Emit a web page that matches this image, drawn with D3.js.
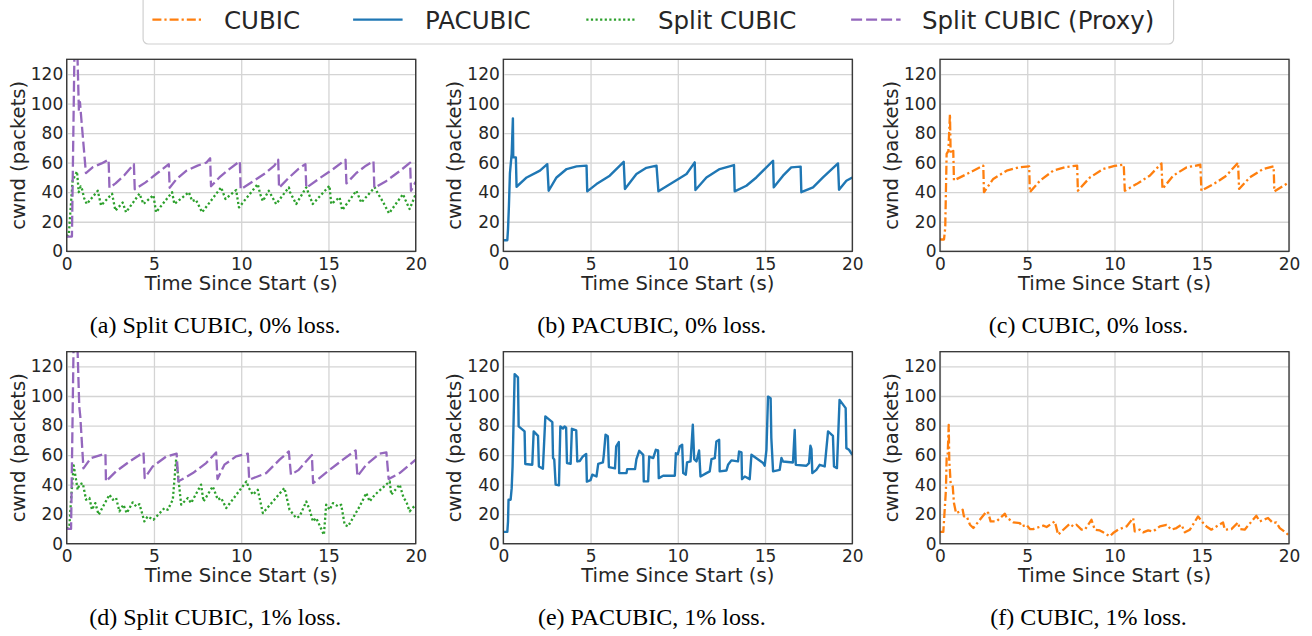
<!DOCTYPE html>
<html>
<head>
<meta charset="utf-8">
<script src="https://cdnjs.cloudflare.com/ajax/libs/d3/7.8.5/d3.min.js"></script>
<style>
  html, body { margin: 0; padding: 0; background: #fff; }
  svg { display: block; }
</style>
</head>
<body>
<svg id="chart" width="1312" height="636"></svg>
<script>
// ---------------- DATA ----------------
const xTicks = [0, 5, 10, 15, 20];
const yTicks = [0, 20, 40, 60, 80, 100, 120];
const xLabel = "Time Since Start (s)";
const yLabel = "cwnd (packets)";
const legendNames = ["CUBIC", "PACUBIC", "Split CUBIC", "Split CUBIC (Proxy)"];
const captions = [
  "(a) Split CUBIC, 0% loss.", "(b) PACUBIC, 0% loss.", "(c) CUBIC, 0% loss.",
  "(d) Split CUBIC, 1% loss.", "(e) PACUBIC, 1% loss.", "(f) CUBIC, 1% loss."
];

// (a) Split CUBIC (Proxy), 0% loss  [time s, cwnd]
const proxy0 = [[0,10],[0.3,10],[0.45,140],[0.6,140],[0.7,95],[0.76,101],[0.85,88],[1.1,53],
  [1.5,57],[2.0,59.5],[2.4,62],[2.45,43],[2.8,46],[3.3,51.5],[3.85,59],[3.9,42],
  [4.5,46.5],[5.2,53],[5.85,59],[5.9,43],[6.3,49],[6.85,54.5],[7.5,58],[8.0,60],[8.22,63],[8.27,44],
  [8.75,50],[9.3,55.5],[9.92,61],[9.97,42],[10.7,47.5],[11.4,53],[11.9,58],[12.12,62],[12.17,43],
  [12.7,49.5],[13.3,56],[13.68,59],[13.73,43],[14.5,49.5],[15.25,55.5],[15.98,62],[16.03,46],
  [16.6,53],[17.15,58],[17.58,61],[17.63,43],[18.3,47.5],[19.05,54],[19.68,60],[19.73,41],[20,47]];
// (a) Split CUBIC, 0% loss
const split0 = [[0,10],[0.12,11],[0.2,25],[0.34,48],[0.59,54],[0.69,40],[0.8,44],[0.88,42],[1.0,36],[1.15,32],
  [1.78,41],[1.97,31],[2.6,39],[2.79,27.5],[3.21,33],[3.4,26.4],[4.17,39],[4.4,32],[4.97,38],[5.12,26.4],
  [6.04,40],[6.17,32],[7.0,40],[7.19,34],[7.4,35],[7.76,26.4],[8.85,43.3],[8.95,40],[9.1,35.4],[9.71,41.5],
  [9.87,29.7],[10.95,45.5],[11.09,38.7],[11.24,34],[11.58,41],[12.0,32],[12.73,43.3],[12.8,40],[13.15,32],
  [13.73,43.3],[14.1,32],[15.06,44.4],[15.16,32],[15.64,36.5],[15.79,27.9],[16.6,41],[16.88,33],[17.65,43.3],
  [17.84,39],[18.1,34],[18.47,25.7],[19.27,38.7],[19.4,35],[19.65,28.6],[20,38.7]];
// (b) PACUBIC, 0% loss
const pacubic0 = [[0,7.5],[0.23,7.5],[0.27,15],[0.32,30],[0.38,53],[0.48,66],[0.55,90],[0.57,63.6],[0.72,63.6],
  [0.76,43.7],[1.34,50],[2.1,54.6],[2.52,59],[2.6,41],[3.05,50],[3.63,55.7],[4.2,57.5],[4.77,58],[4.81,40.6],
  [5.34,45.5],[6.1,51.2],[6.9,60.6],[6.97,42.2],[7.63,52.3],[8.2,56.5],[8.78,58],[8.89,40.6],[9.73,46.7],
  [10.5,52.3],[10.97,60.2],[11.01,41.5],[11.64,50],[12.4,55.7],[13.22,58.4],[13.26,40.6],[13.93,44.4],
  [14.5,50],[15.46,61.3],[15.5,43.3],[16.03,51.2],[16.5,56.8],[17.04,57.3],[17.08,40],[17.75,43.3],
  [18.32,50],[19.18,59.5],[19.24,41.7],[19.66,47.8],[20,50]];
// (c) CUBIC, 0% loss
const cubic0 = [[0,8],[0.23,8],[0.3,16],[0.38,66],[0.48,68],[0.57,93],[0.61,66],[0.76,68],[0.8,48],
  [1.53,52.3],[2.1,55.7],[2.48,58],[2.52,40],[3.05,49],[3.82,54.6],[4.5,56.8],[5.11,57.5],[5.15,40],
  [5.73,47.8],[6.49,54.6],[7.2,57],[7.86,58],[7.9,41],[8.59,50],[9.35,55.7],[10.0,57.8],[10.53,58.6],[10.59,41],
  [11.26,45.5],[12.02,51.2],[12.69,59.5],[12.75,42.2],[13.36,51.2],[14.12,56.8],[14.92,58.6],[14.98,41],
  [15.84,46.7],[16.41,51.2],[17.08,60],[17.14,42.2],[17.75,50],[18.51,55.7],[19.12,57.5],[19.16,40.6],[20,46.7]];
// (d) Split CUBIC (Proxy), 1% loss
const proxy1 = [[0,10],[0.25,10],[0.4,140],[0.6,140],[0.72,93],[0.78,86],[0.96,51],[1.39,58],[2.22,61],[2.25,42.2],
  [2.83,49],[3.6,55.7],[4.4,61.8],[4.47,44.4],[4.93,52.3],[5.7,59],[6.3,61],[6.4,42.2],[7.23,47.8],[7.99,54.6],
  [8.56,61.8],[8.64,43.8],[9.04,53.5],[9.71,59.1],[10.38,61],[10.46,43.3],[11.43,47.8],[12.2,56.9],[12.73,62.5],
  [12.85,46.7],[13.3,50],[13.7,55.5],[14.05,60],[14.12,41],[15.07,50],[15.83,56.9],[16.56,63.2],[16.66,45.6],
  [17.17,53.5],[17.93,61],[18.32,61.8],[18.45,43.8],[19.08,47.8],[20,56.9]];
// (d) Split CUBIC, 1% loss
const split1 = [[0,10],[0.15,11],[0.25,30],[0.4,53],[0.63,36.5],[0.72,40],[0.92,41],[1.11,29.8],[1.3,31],
  [1.45,23],[1.64,27.5],[1.83,19.6],[2.45,33.2],[2.64,29.8],[2.83,31],[3.02,21.9],[3.25,26.4],[3.44,20.7],
  [3.78,28],[3.98,25.3],[4.17,26.8],[4.45,15.1],[4.64,18.5],[4.97,16.2],[5.6,24.1],[5.79,23],[6.08,29.8],
  [6.27,56.9],[6.37,47.8],[6.56,26.4],[6.94,30.9],[7.13,27.5],[7.7,40],[7.84,28.6],[8.37,38.8],[8.66,29.8],
  [8.85,31],[9.14,24.1],[10.3,42.2],[10.44,37.7],[10.67,33.2],[10.95,36.5],[11.24,20.7],[12.48,37.7],
  [12.77,23],[13.15,17.4],[13.35,18.5],[13.73,28.6],[13.92,23],[14.11,15.1],[14.3,17.4],[14.74,6],
  [14.87,26.4],[15.07,23],[15.26,27.5],[15.55,25.3],[15.73,26.4],[15.93,12.8],[16.12,11.7],[16.79,25.3],
  [17.17,34.3],[17.36,28.6],[17.65,33],[18.51,42.2],[18.6,33.2],[19.08,40],[19.31,30.9],[19.46,28.6],
  [19.65,21.9],[20,26.4]];
// (e) PACUBIC, 1% loss
const pacubic1 = [[0,8],[0.23,8],[0.27,15],[0.3,29.8],[0.42,29.8],[0.48,37.6],[0.53,52],[0.65,114.8],
  [0.84,112.6],[0.88,79.4],[1.22,76],[1.26,54],[1.66,53.5],[1.74,76],[1.99,73],[2.04,52.3],[2.27,50.8],
  [2.41,86.2],[2.81,82.3],[2.85,58],[2.92,57],[3.0,40],[3.19,39.5],[3.27,79.4],[3.42,78],[3.51,79.4],
  [3.6,78.5],[3.65,54.6],[3.86,54.1],[3.93,77.8],[4.18,76.7],[4.24,55.7],[4.38,56],[4.56,59.1],[4.75,60.7],
  [4.79,42],[5.0,43],[5.1,46.7],[5.34,45.5],[5.44,54.1],[5.71,55],[5.76,60.2],[5.86,73.8],[5.99,72.7],
  [6.05,51.9],[6.4,51],[6.47,65.9],[6.62,68.8],[6.64,47.8],[7.06,47.8],[7.1,50.5],[7.55,50.5],[7.63,57.3],
  [7.79,62.9],[8.02,60.2],[8.05,42.2],[8.3,42.2],[8.36,59],[8.59,58],[8.74,63.6],[8.87,63.1],[8.91,44.4],
  [9.16,46],[9.83,46],[9.89,61.3],[10.0,60.5],[10.11,65.8],[10.25,67],[10.31,47.8],[10.46,46.7],[10.53,55],
  [10.73,55.7],[10.86,80.5],[10.94,57.3],[11.07,55.7],[11.22,63.1],[11.3,45.5],[11.64,47.8],[11.83,49],
  [11.93,57.3],[12.12,58],[12.21,69.2],[12.37,70.3],[12.4,49],[12.79,49.6],[12.88,53.4],[13.07,56.4],
  [13.45,55.7],[13.51,62.4],[13.65,61.8],[13.68,43.7],[13.84,45.5],[14.12,43.7],[14.22,60.2],[14.89,54.6],
  [14.98,52.8],[15.08,63.6],[15.17,99.6],[15.32,98.5],[15.36,71.5],[15.46,49],[15.84,50],[15.94,58],
  [16.03,55.7],[16.6,55],[16.7,77],[16.76,53.4],[17.37,52.8],[17.52,54.6],[17.6,66.3],[17.66,64],
  [17.71,47.8],[17.94,50],[18.13,53.4],[18.42,52.3],[18.61,76],[18.89,73],[18.95,52.3],[19.12,51.2],
  [19.27,97.4],[19.62,91.8],[19.66,64.7],[19.81,63.6],[20,60.2]];
// (f) CUBIC, 1% loss
const cubic1 = [[0,8],[0.19,8],[0.34,36.5],[0.38,58],[0.44,60.2],[0.5,80.5],[0.53,56.8],[0.61,41],[0.73,38.8],
  [0.8,27.5],[0.92,20.7],[1.15,21.9],[1.3,23],[1.37,18.5],[1.53,18.5],[1.72,12.8],[1.91,10.6],[2.67,21.9],
  [2.77,20.7],[2.9,15.1],[3.24,15.1],[3.72,20.3],[3.82,17.4],[4.0,16.2],[4.2,14.4],[4.58,14],[4.68,11.7],
  [4.96,12.8],[5.15,9.9],[5.34,9.9],[5.92,12.2],[6.11,11.3],[6.58,15.1],[6.77,6.1],[6.96,8.3],[7.44,13.5],
  [7.63,11.7],[7.82,12.8],[8.11,9.5],[8.3,9.5],[8.68,16.2],[8.87,9.5],[9.16,9],[9.35,7.7],[9.73,5],[9.92,7.2],
  [10.21,9.5],[10.69,11.7],[11.07,17.4],[11.16,8.3],[11.45,9.5],[11.64,7.7],[11.93,9],[12.21,8.3],[12.6,11.7],
  [12.98,12.8],[13.26,9.5],[13.55,10.6],[13.84,12.8],[14.03,7.7],[14.32,9.5],[14.79,18.5],[15.08,14],
  [15.27,11.7],[15.55,9.5],[16.22,14.4],[16.32,9.5],[16.7,9.9],[17.08,14.4],[17.18,9.9],[17.46,9.5],
  [18.13,18.9],[18.32,15.1],[18.8,17.4],[19.08,14],[19.27,14.4],[19.47,10.6],[19.85,7.2],[20,5.4]];

// ---------------- STYLES / LAYOUT ----------------
const styles = {
  cubic:  {color: "#ff7f0e", dash: "9,3,2.2,3"},
  pacubic:{color: "#1f77b4", dash: null},
  split:  {color: "#2ca02c", dash: "2.2,2.4"},
  proxy:  {color: "#9467bd", dash: "11,4"}
};
const legendKeys = ["cubic", "pacubic", "split", "proxy"];

const panels = [
  {col:0,row:0,series:[["split",split0],["proxy",proxy0]]},
  {col:1,row:0,series:[["pacubic",pacubic0]]},
  {col:2,row:0,series:[["cubic",cubic0]]},
  {col:0,row:1,series:[["split",split1],["proxy",proxy1]]},
  {col:1,row:1,series:[["pacubic",pacubic1]]},
  {col:2,row:1,series:[["cubic",cubic1]]}
];

const colLeft = [66.7, 503.3, 940];
const rowTop = [59.3, 351.7];
const W = 349, H = 192;
const textColor = "#262626";
const sans = "'DejaVu Sans', Verdana, sans-serif";

const svg = d3.select("#chart");
const defs = svg.append("defs");

panels.forEach((p, i) => {
  const L = colLeft[p.col], T = rowTop[p.row];
  const x = d3.scaleLinear().domain([0, 20]).range([L, L + W]);
  const y = d3.scaleLinear().domain([0, 130]).range([T + H, T]);
  const g = svg.append("g");

  const clipId = "clip" + i;
  defs.append("clipPath").attr("id", clipId)
    .append("rect").attr("x", L).attr("y", T).attr("width", W).attr("height", H);

  // x axis + vertical grid
  const xa = g.append("g").attr("transform", `translate(0,${T + H})`)
    .call(d3.axisBottom(x).tickValues(xTicks).tickFormat(d3.format("d")).tickSize(-H).tickPadding(6.5));
  // y axis + horizontal grid
  const ya = g.append("g").attr("transform", `translate(${L},0)`)
    .call(d3.axisLeft(y).tickValues(yTicks).tickFormat(d3.format("d")).tickSize(-W).tickPadding(3.5));
  [xa, ya].forEach(a => {
    a.select(".domain").remove();
    a.selectAll(".tick line").attr("stroke", "#d4d4d4").attr("stroke-width", 1.3);
    a.selectAll(".tick text").attr("fill", textColor).style("font-family", sans).style("font-size", "17px");
  });

  // lines
  const line = d3.line().x(d => x(d[0])).y(d => y(d[1]));
  const lg = g.append("g").attr("clip-path", `url(#${clipId})`);
  p.series.forEach(([key, data]) => {
    const st = styles[key];
    lg.append("path").datum(data)
      .attr("d", line)
      .attr("fill", "none")
      .attr("stroke", st.color)
      .attr("stroke-width", key === "pacubic" ? 2.4 : 2.3)
      .attr("stroke-linejoin", "round")
      .attr("stroke-linecap", "butt")
      .attr("stroke-dasharray", st.dash);
  });

  // frame
  g.append("rect").attr("x", L).attr("y", T).attr("width", W).attr("height", H)
    .attr("fill", "none").attr("stroke", "#333").attr("stroke-width", 1.3);

  // axis labels
  g.append("text").attr("x", L + W / 2).attr("y", T + H + 38.5)
    .attr("text-anchor", "middle").attr("fill", textColor)
    .style("font-family", sans).style("font-size", "19.6px").text(xLabel);
  g.append("text")
    .attr("transform", `translate(${L - 42},${T + H / 2}) rotate(-90)`)
    .attr("text-anchor", "middle").attr("fill", textColor)
    .style("font-family", sans).style("font-size", "19.6px").text(yLabel);

  // caption
  g.append("text").attr("x", L + W / 2 - 26).attr("y", T + H + 81.5)
    .attr("text-anchor", "middle").attr("fill", "#000")
    .style("font-family", "'Liberation Serif', 'Times New Roman', serif").style("font-size", "24px")
    .text(captions[i]);
});

// ---------------- LEGEND ----------------
const leg = svg.append("g");
leg.append("rect").attr("x", 143.1).attr("y", -6).attr("width", 1030.5).attr("height", 50)
  .attr("rx", 5).attr("fill", "#fff").attr("stroke", "#d0d0d0").attr("stroke-width", 1.2);
const legLineX = [152.4, 353.1, 586.3, 851.1];
const legTextX = [224, 425, 658, 922];
legendKeys.forEach((k, i) => {
  const st = styles[k];
  leg.append("line").attr("x1", legLineX[i]).attr("x2", legLineX[i] + 49.5)
    .attr("y1", 19.6).attr("y2", 19.6)
    .attr("stroke", st.color).attr("stroke-width", 2.4)
    .attr("stroke-dasharray", st.dash);
  leg.append("text").attr("x", legTextX[i]).attr("y", 29.3)
    .attr("fill", textColor).style("font-family", sans).style("font-size", "24.5px")
    .text(legendNames[i]);
});
</script>
</body>
</html>
